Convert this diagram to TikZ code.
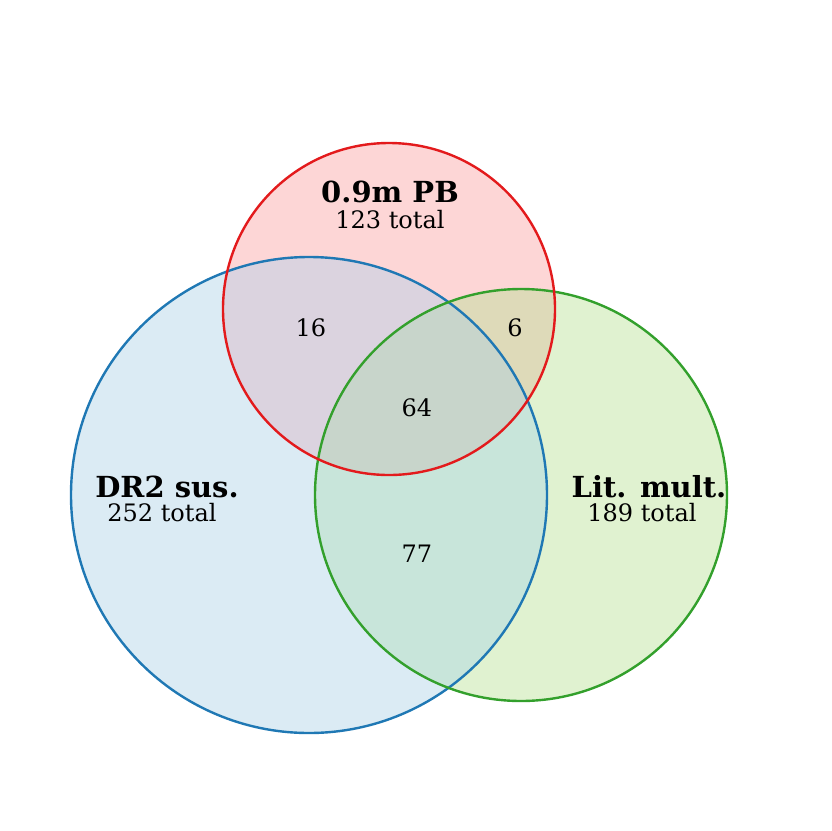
\documentclass[tikz,border=0pt]{standalone}
\usepackage{fontspec}
\setmainfont{DejaVu Serif}
\definecolor{redE}{RGB}{227,26,28}
\definecolor{blueE}{RGB}{31,120,180}
\definecolor{greenE}{RGB}{51,160,44}
\definecolor{redF}{RGB}{253,214,214}
\definecolor{blueF}{RGB}{219,235,244}
\definecolor{greenF}{RGB}{224,242,208}
\definecolor{rbF}{RGB}{219,211,223}
\definecolor{rgF}{RGB}{222,218,185}
\definecolor{bgF}{RGB}{200,229,218}
\definecolor{rbgF}{RGB}{200,213,203}
\tikzset{
  setname/.style={font=\fontsize{29}{32}\selectfont\bfseries, anchor=base, inner sep=0pt},
  settotal/.style={font=\fontsize{24}{27}\selectfont, anchor=base, inner sep=0pt},
  regnum/.style={font=\fontsize{24}{28}\selectfont, anchor=base, inner sep=0pt},
  ring/.style={line width=2.4pt}
}
\begin{document}
\begin{tikzpicture}[x=1pt,y=-1pt]
\useasboundingbox (0,0) rectangle (831,831);
\def\redC{(389,309) circle[radius=166]}
\def\blueC{(309,495) circle[radius=238]}
\def\greenC{(521,495) circle[radius=206]}
% single fills
\fill[blueF] \blueC;
\fill[greenF] \greenC;
\fill[redF] \redC;
% pair fills
\begin{scope}\clip \redC; \fill[rbF] \blueC; \end{scope}
\begin{scope}\clip \redC; \fill[rgF] \greenC; \end{scope}
\begin{scope}\clip \blueC; \fill[bgF] \greenC; \end{scope}
\begin{scope}\clip \redC; \clip \blueC; \fill[rbgF] \greenC; \end{scope}
% outlines
\draw[ring, blueE] \blueC;
\draw[ring, greenE] \greenC;
\draw[ring, redE] \redC;
% labels
\node[setname] (nPB) at (390,202) {0.9m PB};
\node[settotal] (tPB) at (390,228) {123 total};
\node[setname] (nDR) at (167,497) {DR2 sus.};
\node[settotal] (tDR) at (162,521) {252 total};
\node[setname] (nLit) at (649,497) {Lit. mult.};
\node[settotal] (tLit) at (642,521) {189 total};
\node[regnum] (r16) at (311,336) {16};
\node[regnum] (r6) at (515,336) {6};
\node[regnum] (r64) at (417,416) {64};
\node[regnum] (r77) at (417,562) {77};
\end{tikzpicture}
\end{document}
